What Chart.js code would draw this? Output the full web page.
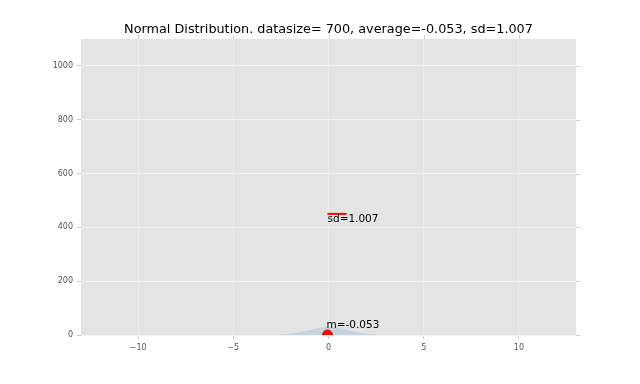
<!DOCTYPE html>
<html>
<head>
<meta charset="utf-8">
<script src="https://cdn.jsdelivr.net/npm/chart.js@4.4.0/dist/chart.umd.min.js"></script>
<style>
  html,body{margin:0;padding:0;background:#fff;}
  #wrap{width:640px;height:384px;}
</style>
</head>
<body>
<div id="wrap"><canvas id="c" width="640" height="384"></canvas></div>
<script>
// histogram of 700 samples, bin width 0.1
const binCenters = [-2.45,-2.35,-2.25,-2.15,-2.05,-1.95,-1.85,-1.75,-1.65,-1.55,-1.45,-1.35,-1.25,-1.15,-1.05,-0.95,-0.85,-0.75,-0.65,-0.55,-0.45,-0.35,-0.25,-0.15,-0.05,
                    0.05,0.15,0.25,0.35,0.45,0.55,0.65,0.75,0.85,0.95,1.05,1.15,1.25,1.35,1.45,1.55,1.65,1.75,1.85,1.95,2.05,2.15,2.25,2.35,2.45];
const binCounts  = [1,2,2,3,4,3,5,7,6,9,10,12,11,15,17,16,20,22,21,25,24,28,26,29,27,
                    30,26,28,25,27,22,24,19,20,16,18,13,12,10,11,8,7,5,6,4,3,3,2,1,1];
const average = -0.053;
const sd = 1.007;
const sdLineY = 450;
const sdLabelY = 420;
const meanLabelY = 25;
const xTicks = [-10,-5,0,5,10];
const yTicks = [0,200,400,600,800,1000];
const titleText = 'Normal Distribution. datasize= 700, average=-0.053, sd=1.007';

const fmt = v => (v < 0 ? '\u2212' + Math.abs(v) : String(v));

// title, tick marks on top and right edges, text labels
const extras = {
  id:'extras',
  afterDraw(chart){
    const {ctx, chartArea:a, scales:{x,y}} = chart;
    ctx.save();
    ctx.strokeStyle = '#c2d0d8';
    ctx.lineWidth = 1;
    ctx.beginPath();
    xTicks.forEach(t=>{ const px = Math.round(x.getPixelForValue(t))+0.5; ctx.moveTo(px,a.top); ctx.lineTo(px,a.top-4); });
    yTicks.forEach(t=>{ const py = Math.round(y.getPixelForValue(t))+0.5; ctx.moveTo(a.right,py); ctx.lineTo(a.right+4,py); });
    ctx.stroke();

    ctx.fillStyle = '#000';
    ctx.font = '12.8px "DejaVu Sans"';
    ctx.textAlign = 'center';
    ctx.textBaseline = 'middle';
    ctx.fillText(titleText, (a.left+a.right)/2, 30);

    ctx.font = '10.5px "DejaVu Sans"';
    ctx.textAlign = 'left';
    ctx.textBaseline = 'alphabetic';
    ctx.fillText('sd=' + sd.toFixed(3), x.getPixelForValue(average), y.getPixelForValue(sdLabelY));
    ctx.fillText('m=' + average.toFixed(3), x.getPixelForValue(average) - 1, y.getPixelForValue(meanLabelY));
    ctx.restore();
  }
};

const bg = {
  id:'bg',
  beforeDraw(chart){
    const {ctx, chartArea:a} = chart;
    ctx.save();
    ctx.fillStyle = '#e4e4e4';
    ctx.fillRect(a.left, a.top, a.right-a.left, a.bottom-a.top);
    ctx.restore();
  }
};

new Chart(document.getElementById('c'), {
  type:'bar',
  data:{
    datasets:[
      {
        type:'bar',
        data: binCenters.map((c,i)=>({x:c, y:binCounts[i]})),
        backgroundColor:'rgba(176,204,216,0.55)',
        borderWidth:0,
        barPercentage:1,
        categoryPercentage:1,
        order:3
      },
      {
        type:'line',
        data:[{x:average, y:sdLineY},{x:average+sd, y:sdLineY}],
        borderColor:'#ff0000',
        borderWidth:2,
        pointRadius:0,
        order:2
      },
      {
        type:'scatter',
        data:[{x:average, y:0}],
        backgroundColor:'#ff0000',
        borderColor:'#ff0000',
        pointRadius:5,
        clip:0,
        order:1
      }
    ]
  },
  options:{
    responsive:false,
    animation:false,
    layout:{padding:{left:0,right:64,top:39,bottom:0}},
    plugins:{
      legend:{display:false},
      tooltip:{enabled:false},
      title:{display:false}
    },
    scales:{
      x:{
        type:'linear',
        min:-13, max:13,
        offset:false,
        afterBuildTicks: s => { s.ticks = xTicks.map(v=>({value:v})); },
        afterFit: s => { s.height = 49; },
        grid:{offset:false, color:'rgba(255,255,255,0.35)', lineWidth:1, drawTicks:true, tickLength:4, tickColor:'#c2d0d8'},
        border:{display:false},
        ticks:{color:'#555', font:{family:'"DejaVu Sans"', size:8}, padding:4, maxRotation:0, callback:fmt}
      },
      y:{
        min:0, max:1100,
        afterBuildTicks: s => { s.ticks = yTicks.map(v=>({value:v})); },
        afterFit: s => { s.width = 81; },
        grid:{color:'#f2f2f2', lineWidth:1, drawTicks:true, tickLength:4, tickColor:'#c2d0d8'},
        border:{display:false},
        ticks:{color:'#555', font:{family:'"DejaVu Sans"', size:8}, padding:4, callback:fmt}
      }
    }
  },
  plugins:[bg, extras]
});
</script>
</body>
</html>
